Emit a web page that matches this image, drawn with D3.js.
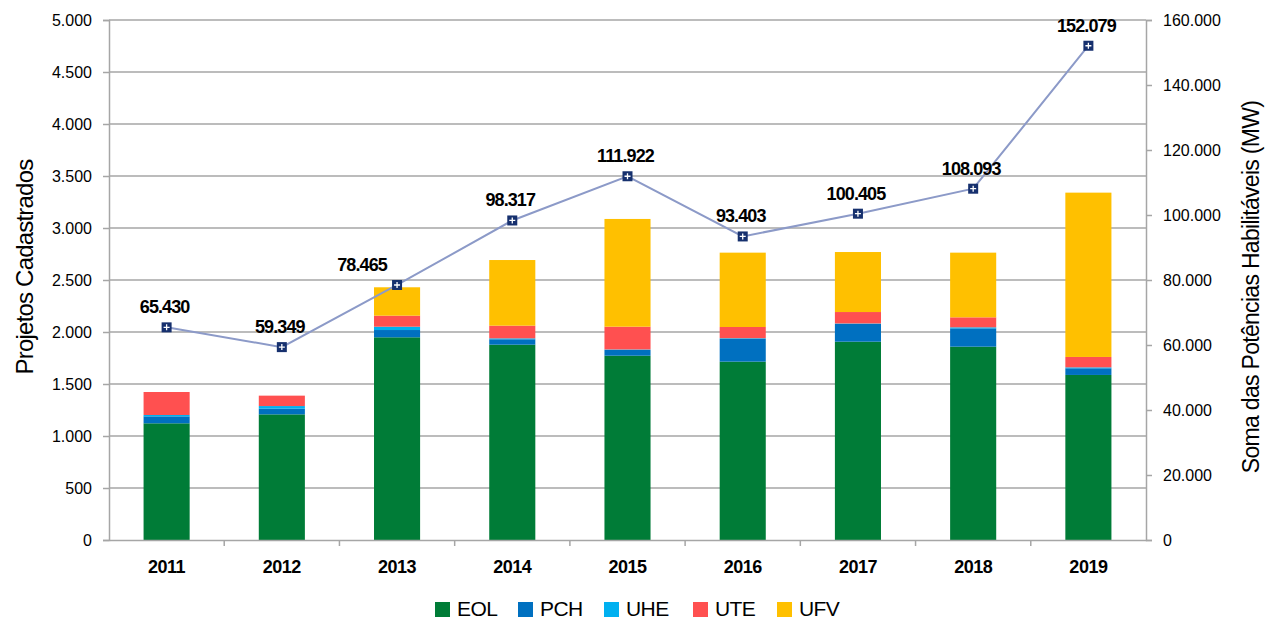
<!DOCTYPE html>
<html>
<head>
<meta charset="utf-8">
<script src="https://cdn.jsdelivr.net/npm/d3@7"></script>
<style>
  html, body { margin: 0; padding: 0; background: #fff; }
  svg { display: block; font-family: "Liberation Sans", Arial, sans-serif; }
</style>
</head>
<body>
<svg id="chart" width="1266" height="620"></svg>
<script>
// ---- data ----
const years = ["2011","2012","2013","2014","2015","2016","2017","2018","2019"];
const seriesNames = ["EOL","PCH","UHE","UTE","UFV"];
const EOL = [1122, 1208, 1949, 1878, 1772, 1715, 1907, 1859, 1587];
const PCH = [67, 55, 70, 52, 55, 218, 170, 176, 64];
const UHE = [13, 25, 32, 9, 5, 7, 5, 10, 9];
const UTE = [221, 100, 106, 122, 219, 108, 110, 96, 100];
const UFV = [0, 0, 273, 631, 1036, 715, 577, 622, 1580];
const potencia = [65430, 59349, 78465, 98317, 111922, 93403, 100405, 108093, 152079];
const leftTicks = [0, 500, 1000, 1500, 2000, 2500, 3000, 3500, 4000, 4500, 5000];
const rightTicks = [0, 20000, 40000, 60000, 80000, 100000, 120000, 140000, 160000];

const colors = {EOL: "#007c37", PCH: "#0070c0", UHE: "#00b0f0", UTE: "#ff5050", UFV: "#ffc000"};

// ---- layout ----
const svg = d3.select("#chart");
const L = 109, R = 1146, T = 20, B = 540;
const fmt = v => d3.format(",")(v).replace(/,/g, ".");

const x = d3.scaleBand().domain(years).range([L, R]).padding(0);
const yL = d3.scaleLinear().domain([0, 5000]).range([B, T]);
const yR = d3.scaleLinear().domain([0, 160000]).range([B, T]);

const gridColor = "#a6a6a6";

// gridlines
svg.append("g").selectAll("line").data(leftTicks.filter(d => d > 0)).join("line")
  .attr("x1", L).attr("x2", R)
  .attr("y1", d => yL(d)).attr("y2", d => yL(d))
  .attr("stroke", gridColor).attr("stroke-width", 1.5);

// stacked bars
const rows = years.map((y, i) => ({year: y, EOL: EOL[i], PCH: PCH[i], UHE: UHE[i], UTE: UTE[i], UFV: UFV[i]}));
const stacked = d3.stack().keys(seriesNames)(rows);
const bw = x.bandwidth() * 0.4;
svg.append("g").selectAll("g").data(stacked).join("g")
  .attr("fill", d => colors[d.key])
  .selectAll("rect").data(d => d).join("rect")
  .attr("x", d => x(d.data.year) + (x.bandwidth() - bw) / 2)
  .attr("width", bw)
  .attr("y", d => yL(d[1]))
  .attr("height", d => Math.max(0, yL(d[0]) - yL(d[1])));

// left axis
const axL = svg.append("g").attr("transform", `translate(${L},0)`)
  .call(d3.axisLeft(yL).tickValues(leftTicks).tickFormat(fmt).tickSize(6).tickPadding(11));
axL.select(".domain").attr("stroke", gridColor).attr("stroke-width", 1.5);
axL.selectAll(".tick line").attr("stroke", gridColor).attr("stroke-width", 1.5);
axL.selectAll("text").attr("font-size", 16).attr("fill", "#000")
  .attr("font-family", "Liberation Sans, Arial, sans-serif");

// right axis
const axR = svg.append("g").attr("transform", `translate(${R},0)`)
  .call(d3.axisRight(yR).tickValues(rightTicks).tickFormat(fmt).tickSize(6).tickPadding(11));
axR.select(".domain").attr("stroke", gridColor).attr("stroke-width", 1.5);
axR.selectAll(".tick line").attr("stroke", gridColor).attr("stroke-width", 1.5);
axR.selectAll("text").attr("font-size", 16).attr("fill", "#000")
  .attr("font-family", "Liberation Sans, Arial, sans-serif");

// bottom axis
const axB = svg.append("g").attr("transform", `translate(0,${B})`)
  .call(d3.axisBottom(x).tickSize(0).tickPadding(20));
axB.select(".domain").attr("stroke", gridColor).attr("stroke-width", 1.5);
axB.selectAll("text").attr("font-size", 18).attr("font-weight", "bold").attr("fill", "#000")
  .attr("font-family", "Liberation Sans, Arial, sans-serif").attr("letter-spacing", "-0.5px");
// ticks at band boundaries
svg.append("g").selectAll("line").data(years.slice(1)).join("line")
  .attr("x1", d => x(d)).attr("x2", d => x(d))
  .attr("y1", B).attr("y2", B + 6)
  .attr("stroke", gridColor).attr("stroke-width", 1.5);

// line series
const cx = d => x(d) + x.bandwidth() / 2;
const linePts = years.map((y, i) => [cx(y), yR(potencia[i])]);
svg.append("path").datum(linePts)
  .attr("d", d3.line())
  .attr("fill", "none").attr("stroke", "#8c9ac8").attr("stroke-width", 2);

const mk = svg.append("g").selectAll("g").data(linePts).join("g")
  .attr("transform", d => `translate(${d[0]},${d[1]})`);
mk.append("rect").attr("x", -5).attr("y", -5).attr("width", 10).attr("height", 10)
  .attr("fill", "#16306e");
mk.append("path").attr("d", "M-3,0H3M0,-3V3").attr("stroke", "#fff").attr("stroke-width", 1.3);

// data labels
const labelDx = years.map((y, i) => i === 2 ? -33 : 0);
svg.append("g").selectAll("text").data(linePts).join("text")
  .attr("x", (d, i) => d[0] + labelDx[i] - 2)
  .attr("y", d => d[1] - 14)
  .attr("text-anchor", "middle")
  .attr("font-size", 18).attr("font-weight", "bold").attr("letter-spacing", "-0.9px")
  .attr("fill", "#000")
  .text((d, i) => fmt(potencia[i]));

// axis titles
svg.append("text")
  .attr("transform", "translate(33,267) rotate(-90)")
  .attr("text-anchor", "middle")
  .attr("font-size", 24).attr("letter-spacing", "-0.8px").attr("fill", "#000")
  .text("Projetos Cadastrados");

svg.append("text")
  .attr("transform", "translate(1259,287) rotate(-90)")
  .attr("text-anchor", "middle")
  .attr("font-size", 23).attr("letter-spacing", "-0.7px").attr("fill", "#000")
  .text("Soma das Potências Habilitáveis (MW)");

// legend
const legX = [435, 518, 604, 693, 777];
const leg = svg.append("g").selectAll("g").data(seriesNames).join("g")
  .attr("transform", (d, i) => `translate(${legX[i]},601)`);
leg.append("rect").attr("y", 1).attr("width", 15).attr("height", 15).attr("fill", d => colors[d]);
leg.append("text").attr("x", 22).attr("y", 15)
  .attr("font-size", 21).attr("letter-spacing", "-0.6px").attr("fill", "#000")
  .text(d => d);
</script>
</body>
</html>
